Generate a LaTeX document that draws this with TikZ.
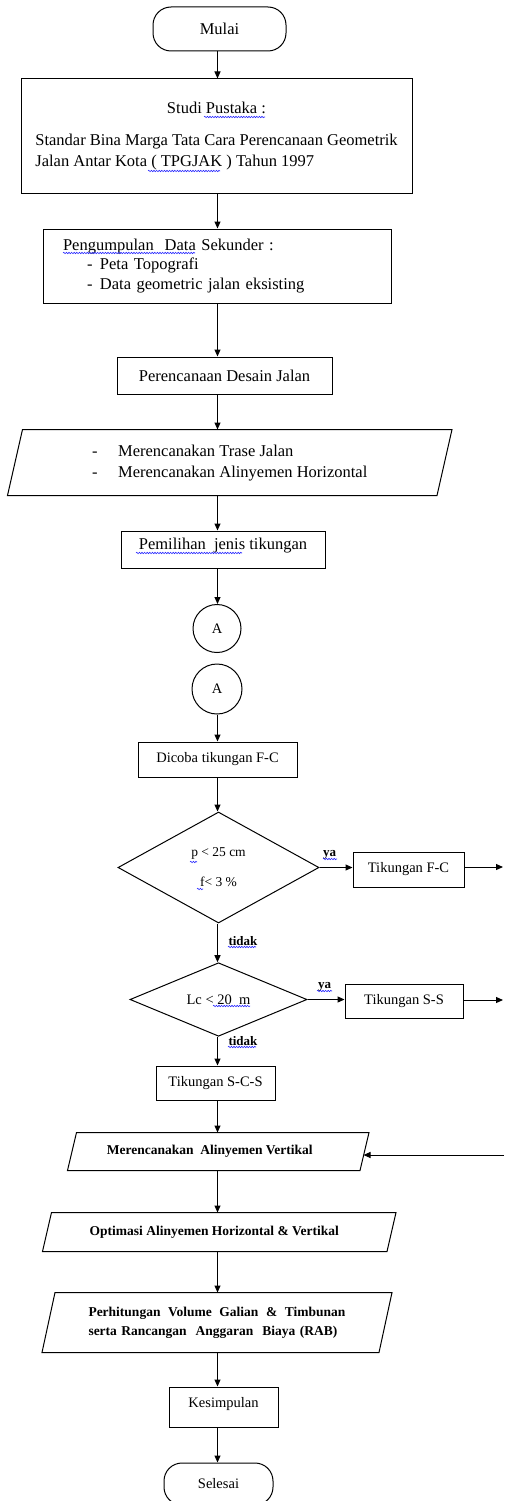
\documentclass[tikz,border=0pt]{standalone}
\usepackage{fontspec}
\setmainfont{Liberation Serif}
\usetikzlibrary{arrows.meta,shapes.geometric,decorations.pathmorphing}
\begin{document}
\begin{tikzpicture}[x=1pt,y=-1pt,
  line width=1pt,
  fbig/.style={font=\fontsize{16.5}{19.5}\selectfont},
  fmid/.style={font=\fontsize{14.5}{17}\selectfont},
  fbold/.style={font=\fontsize{13.5}{19}\selectfont\bfseries},
  boxnode/.style={draw, rectangle, inner sep=0pt, align=center},
  termnode/.style={draw, rectangle, rounded corners=18pt, inner sep=0pt},
  connnode/.style={draw, circle, inner sep=0pt, fmid},
  decnode/.style={draw, diamond, inner sep=0pt, align=center, font=\fontsize{13.5}{16}\selectfont},
  parnode/.style={inner sep=0pt, align=center},
  arr/.style={-{Triangle[length=7pt,width=6pt]}},
  squig/.style={draw=blue!85, line width=0.6pt, decorate, decoration={snake, amplitude=0.7pt, segment length=2.6pt}},
  lbl/.style={font=\fontsize{13}{15}\selectfont\bfseries, inner sep=0pt}
]
\useasboundingbox (0,0) rectangle (504,1501);
\coordinate (ax) at (217.5,0);

% nodes
\node[termnode, fbig, minimum width=133pt, minimum height=44pt] (mulai) at (219.5,29) {Mulai};

\node[boxnode, font=\fontsize{16.5}{21}\selectfont, minimum width=391pt, minimum height=114pt] (studi) at (216.5,136)
  {\begin{tabular}{@{}l@{}}\multicolumn{1}{@{}c@{}}{Studi Pustaka :}\\[11pt]
   Standar Bina Marga Tata Cara Perencanaan Geometrik\\
   Jalan Antar Kota ( TPGJAK ) Tahun 1997\end{tabular}};

\node[boxnode, fbig, minimum width=348pt, minimum height=74pt, text width=308pt, align=left, inner xsep=20pt] (kumpul) at (217,266)
  {Pengumpulan\ \ Data Sekunder :\\
   \hspace*{24pt}\makebox[13pt][l]{-}Peta Topografi\\
   \hspace*{24pt}\makebox[13pt][l]{-}Data geometric jalan eksisting};

\node[boxnode, fbig, minimum width=215pt, minimum height=37pt] (desain) at (224.5,375.5) {Perencanaan Desain Jalan};

\node[parnode, font=\fontsize{16.5}{21}\selectfont, minimum width=428.5pt, minimum height=65pt] (trase) at (229.75,462.5)
  {\begin{tabular}{@{}l@{}}\makebox[26pt][l]{-}Merencanakan Trase Jalan\\
   \makebox[26pt][l]{-}Merencanakan Alinyemen Horizontal\end{tabular}};

\node[boxnode, fbig, minimum width=204pt, minimum height=37pt, text height=10pt, text depth=11pt] (jenis) at (223,549.5) {Pemilihan\ \ jenis tikungan};

\node[connnode, minimum size=48pt] (a1) at (217,628.5) {A};
\node[connnode, minimum size=50pt] (a2) at (217,689) {A};

\node[boxnode, fmid, minimum width=159pt, minimum height=35pt] (dicoba) at (217.5,759.5) {Dicoba tikungan F-C};

\node[decnode, minimum width=201pt, minimum height=111pt] (d1) at (218.5,867.5) {p < 25 cm\\[14pt] f< 3 \%};

\node[boxnode, fmid, minimum width=111pt, minimum height=35pt] (tfc) at (408.5,869.5) {Tikungan F-C};
\coordinate (fcend) at (503,867);

\node[decnode, fmid, minimum width=177pt, minimum height=53pt] (d2) at (218.5,999.5) {Lc < 20\ \ m};

\node[boxnode, fmid, minimum width=118pt, minimum height=34pt] (tss) at (404,1001) {Tikungan S-S};
\coordinate (ssend) at (503,1000);

\node[boxnode, fmid, minimum width=119pt, minimum height=34pt] (tscs) at (215.5,1083) {Tikungan S-C-S};

\node[parnode, fbold, minimum width=291.5pt, minimum height=37pt] (vert) at (218.25,1151.5) {\hspace*{-17pt}Merencanakan\ \ Alinyemen Vertikal};
\coordinate (retstart) at (504,1155);

\node[parnode, fbold, minimum width=343.5pt, minimum height=38pt] (optim) at (219.25,1232) {\hspace*{-10pt}Optimasi Alinyemen Horizontal \& Vertikal};

\node[parnode, fbold, minimum width=336pt, minimum height=59pt, text width=257pt, align=left] (rab) at (217,1322.5)
  {Perhitungan\hfill Volume\hfill Galian\hfill \&\hfill Timbunan\\
   serta Rancangan\ \ Anggaran\ \ Biaya (RAB)};

\node[boxnode, fmid, minimum width=109pt, minimum height=40pt, text height=8pt, text depth=8pt] (kes) at (223.5,1407) {Kesimpulan};

\node[termnode, fmid, minimum width=109pt, minimum height=42pt] (sel) at (218.5,1484) {Selesai};

% labels
\node[lbl, anchor=center] (ya1) at (329.5,855) {ya};
\node[lbl, anchor=center] (ya2) at (324.5,987) {ya};
\node[lbl, anchor=west] (tidak1) at (228,941) {tidak};
\node[lbl, anchor=west] (tidak2) at (228,1041) {tidak};

% parallelogram outlines
\draw ([xshift=7.5pt]trase.north west) -- ([xshift=7.5pt]trase.north east) -- ([xshift=-7.5pt]trase.south east) -- ([xshift=-7.5pt]trase.south west) -- cycle;
\draw ([xshift=4.5pt]vert.north west) -- ([xshift=4.5pt]vert.north east) -- ([xshift=-4.5pt]vert.south east) -- ([xshift=-4.5pt]vert.south west) -- cycle;
\draw ([xshift=4.5pt]optim.north west) -- ([xshift=4.5pt]optim.north east) -- ([xshift=-4.5pt]optim.south east) -- ([xshift=-4.5pt]optim.south west) -- cycle;
\draw ([xshift=6.5pt]rab.north west) -- ([xshift=6.5pt]rab.north east) -- ([xshift=-6.5pt]rab.south east) -- ([xshift=-6.5pt]rab.south west) -- cycle;

% connectors
\draw[arr] (mulai.south -| ax) -- (studi.north -| ax);
\draw[arr] (studi.south -| ax) -- (kumpul.north -| ax);
\draw[arr] (kumpul.south -| ax) -- (desain.north -| ax);
\draw[arr] (desain.south -| ax) -- (trase.north -| ax);
\draw[arr] (trase.south -| ax) -- (jenis.north -| ax);
\draw[arr] (jenis.south -| ax) -- (a1.north -| ax);
\draw[arr] (a2.south -| ax) -- (dicoba.north -| ax);
\draw[arr] (dicoba.south -| ax) -- (d1.north -| ax);
\draw[arr] (d1.south -| ax) -- (d2.north -| ax);
\draw[arr] (d1.east) -- (d1.east -| tfc.west);
\draw[arr] (tfc.east |- fcend) -- (fcend);
\draw[arr] (d2.east) -- (d2.east -| tss.west);
\draw[arr] (tss.east |- ssend) -- (ssend);
\draw[arr] (d2.south -| ax) -- (tscs.north -| ax);
\draw[arr] (tscs.south -| ax) -- (vert.north -| ax);
\draw[arr] (retstart) -- ([xshift=-1pt]retstart -| vert.east);
\draw[arr] (vert.south -| ax) -- (optim.north -| ax);
\draw[arr] (optim.south -| ax) -- (rab.north -| ax);
\draw[arr] (rab.south -| ax) -- (kes.north -| ax);
\draw[arr] (kes.south -| ax) -- (sel.north -| ax);

% spell-check underlines
\draw[squig] (204,117) -- (265,117);
\draw[squig] (148,171) -- (220,171);
\draw[squig] (63,253) -- (195,253);
\draw[squig] (136,553) -- (242,553);
\draw[squig] (190,862) -- (197,862);
\draw[squig] (197,889) -- (203,889);
\draw[squig] (323,859) -- (337,859);
\draw[squig] (228,947) -- (256,947);
\draw[squig] (317,991) -- (332,991);
\draw[squig] (213,1006) -- (250,1006);
\draw[squig] (228,1047) -- (256,1047);
\end{tikzpicture}
\end{document}
